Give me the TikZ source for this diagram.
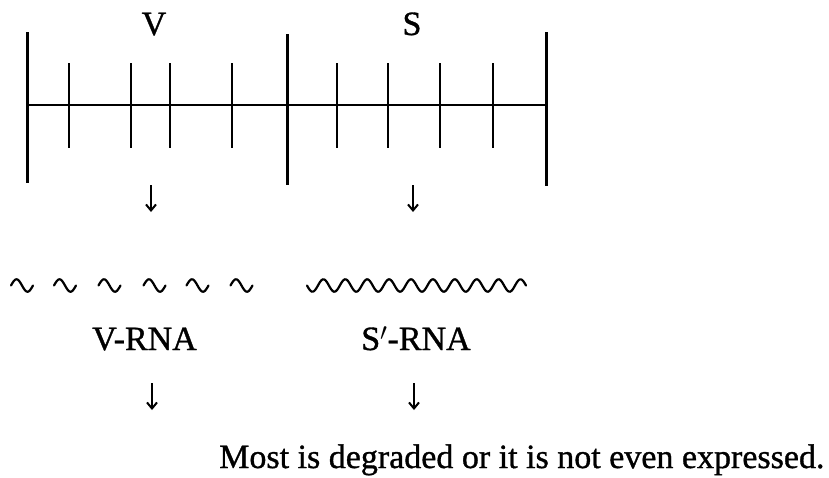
\documentclass[tikz,border=0pt]{standalone}
\usepackage{fontspec}
\setmainfont{Liberation Serif}
\newfontfamily\labelfont{Liberation Serif}[FakeBold=1]
\usetikzlibrary{arrows.meta}
\tikzset{
  genebar/.style={black, line width=2.6pt},
  tallline/.style={black, line width=3pt},
  tickline/.style={black, line width=2.8pt},
  rnawave/.style={black, line width=2.2pt, line cap=round},
  labeltext/.style={font=\labelfont\fontsize{34}{41}\selectfont, inner sep=0pt},
  downarr/.style={black, line width=2pt, -{Straight Barb[length=6pt,width=10pt,line width=2pt]}}
}

\begin{document}
\begin{tikzpicture}[x=1pt,y=-1pt]
  \useasboundingbox (0,0) rectangle (829,477);
  \draw[genebar] (27.5,105)--(546,105);
  \draw[tallline] (27.5,32)--(27.5,183);
  \draw[tallline] (287,34)--(287,185);
  \draw[tallline] (546,32)--(546,186);
  \foreach \t in {69,131,170,232,337,388,440,493}{
    \draw[tickline] (\t,63)--(\t,148);
  }
  \node[labeltext, anchor=base] (vlabel) at (154,35) {V};
  \node[labeltext, anchor=base] (slabel) at (412,35) {S};
  \coordinate (vtop) at (151,185);
  \coordinate (vbot) at (151,212);
  \coordinate (stop) at (413,185);
  \coordinate (sbot) at (413,212);
  \draw[downarr] (vtop)--(vbot);
  \draw[downarr] (stop)--(sbot);
  % broken and intact transcripts
  \foreach \c in {22,65,109.5,154.5,197.5,241.5}{
    \draw[rnawave] plot[domain=-11:11, samples=30, smooth] ({\c+\x},{285.5+6.2*sin(16.36*\x)});
  }
  \draw[rnawave] plot[domain=307:526, samples=220, smooth] (\x,{285.5+6.2*sin(16.44*(\x-307))});
  \node[labeltext, anchor=base] (vrna) at (144.5,350) {V-RNA};
  \node[labeltext, anchor=base] (srna) at (416,350) {S$'$-RNA};
  \coordinate (vrnatop) at (152,383);
  \coordinate (vrnabot) at (152,410);
  \coordinate (srnatop) at (414,383);
  \coordinate (srnabot) at (414,410);
  \draw[downarr] (vrnatop)--(vrnabot);
  \draw[downarr] (srnatop)--(srnabot);
  \node[labeltext, anchor=base west] (fate) at (219,468) {Most is degraded or it is not even expressed.};
\end{tikzpicture}
\end{document}
